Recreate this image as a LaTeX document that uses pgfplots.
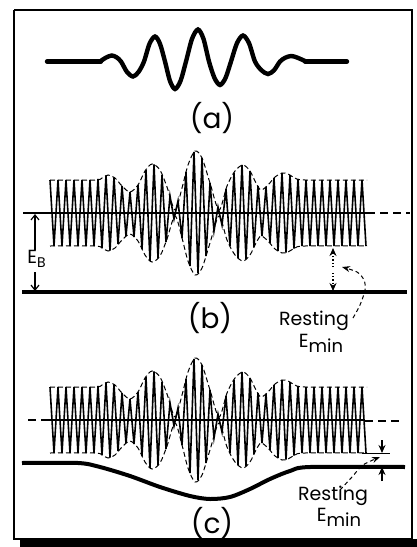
\documentclass[border=0pt]{standalone}
\usepackage{fontspec}
\setmainfont{Poppins}
\usepackage{pgfplots}
\pgfplotsset{compat=1.18}
\usepackage{pgfplotstable}
\usetikzlibrary{arrows.meta}

% pixel coordinates of the drawing (y grows downward)
% carrier vertices: x and signed half swing about the centre line
\pgfplotstableread{
x s
50 33
54 -33
58 33
62 -33
66 33
70 -33
74 33
78 -33
82 33
86 -33
90 33
94 -33
98 34
102 -35
106 37.5
110 -37.5
114 35.5
118 -31
122 27
126 -23
130 21
134 -24
138 28
142 -36
146 43
150 -48
154 48.5
158 -45
162 38
166 -29
170 17
174 -6
178 12
182 -25
186 41
190 -53
194 61
198 -60
202 55
206 -43
210 30
214 -18
218 6
222 -12
226 24
230 -33
234 40
238 -45
242 48
246 -46
250 42
254 -34
258 27
262 -23
266 26
270 -30
274 35
278 -38
282 40
286 -39.5
290 38
294 -35.5
298 34
302 -33
306 33
310 -33
314 33
318 -33
322 33
326 -33
330 33
334 -33
338 33
342 -33
346 33
350 -33
354 33
358 -33
362 33
366 -33
}\carrier

% dashed envelope: x and half height
\pgfplotstableread{
x a
50 33
95 33
102 35
108 38
115 35
122 27
130 21
138 28
145 42
152 49
160 43
167 26
175 3
182 25
188 48
195 62
202 55
210 30
219 3
227 27
235 42
243 48
250 42
256 30
261 23
268 28
275 36
282 40
288 39
295 35
305 33
367 33
}\envelope

\begin{document}
\begin{tikzpicture}
\begin{axis}[
  width=208.5pt, height=273.5pt, scale only axis,
  xmin=0, xmax=417, ymin=0, ymax=547, y dir=reverse,
  hide axis, clip=false,
]
\addplot[draw=none, fill=white] coordinates {(0,0) (417,0) (417,547) (0,547)} -- cycle;

% frame and shadow
\addplot[black, line width=1pt] coordinates {(14,10) (412,10) (412,539) (14,539) (14,10)};
\addplot[draw=none, fill=black] coordinates {(20,539) (417,539) (417,547) (20,547)} -- cycle;

% (a) the signal
\addplot[black, line width=2.2pt, line cap=round] coordinates {(47,61.5) (101,61.5)};
\addplot[black, line width=2.2pt, line cap=round] coordinates {(305,61.5) (347,61.5)};
\addplot[black, line width=2.2pt, smooth, line cap=round] coordinates {
 (100,61.5) (106,57.6) (111.7,55.5) (116.5,57.3) (121,61.5)
 (127,72) (133,76.5) (138.5,72) (144,61.5)
 (149.5,43.8) (155,36.5) (160,43.8) (165,61.5)
 (170,81) (175,89) (180.5,81) (186,61.5)
 (192,38.9) (198,29.5) (203.5,38.9) (209,61.5)
 (214.5,78) (220,85) (225.5,78) (231,61.5)
 (237,43.1) (243,35.5) (249,43.1) (255,61.5)
 (261.5,70.3) (268,74) (274,70.3) (280,61.5)
 (285.5,57.6) (291.5,56) (298,57.9) (306,61.5)};
\node[font=\fontsize{14}{14}\selectfont] at (axis cs:212,118) {(a)};

% (b)
\addplot[black, line width=0.6pt] coordinates {(23,213) (367,213)};
\addplot[black, line width=0.8pt, dash pattern=on 4pt off 2.5pt] coordinates {(367,213) (410,213)};
\addplot[black, line width=0.8pt] table[x=x, y expr=213-\thisrow{s}] {\carrier};
\addplot[black, line width=0.5pt, smooth, dash pattern=on 2.5pt off 1.5pt] table[x=x, y expr=213-\thisrow{a}] {\envelope};
\addplot[black, line width=0.5pt, smooth, dash pattern=on 2.5pt off 1.5pt] table[x=x, y expr=213+\thisrow{a}] {\envelope};
\addplot[black, line width=2pt] coordinates {(22,292) (407,292)};
\addplot[black, line width=0.6pt, -{Straight Barb[length=2.5pt,width=4pt]}] coordinates {(35,250) (35,214)};
\addplot[black, line width=0.6pt, -{Straight Barb[length=2.5pt,width=4pt]}] coordinates {(35,272) (35,291)};
\node[anchor=west, font=\fontsize{9.5}{9.5}\selectfont, inner sep=0pt] at (axis cs:27,259)
  {E\raisebox{-0.45ex}{\fontsize{7}{7}\selectfont B}};
\addplot[black, line width=0.6pt, densely dotted, -{Stealth[length=4pt,width=3.5pt]}] coordinates {(333,267) (333,248)};
\addplot[black, line width=0.6pt, densely dotted, -{Stealth[length=4pt,width=3.5pt]}] coordinates {(333,273) (333,291)};
\addplot[black, line width=0.5pt, smooth, dash pattern=on 2pt off 1.5pt, -{Stealth[length=4pt,width=3pt]}]
  coordinates {(353,318) (360,305) (365,290) (364,280) (357,272) (342,267)};
\node[font=\fontsize{14}{14}\selectfont] at (axis cs:210,318) {(b)};
\node[font=\fontsize{9.5}{9.5}\selectfont, inner sep=0pt] at (axis cs:314,321) {Resting};
\node[font=\fontsize{9.5}{9.5}\selectfont, inner sep=0pt] at (axis cs:321,343)
  {E\raisebox{-0.5ex}{\fontsize{9}{9}\selectfont min}};

% (c)
\addplot[black, line width=0.8pt, dash pattern=on 4pt off 2.5pt] coordinates {(28,420) (47,420)};
\addplot[black, line width=0.6pt] coordinates {(47,420) (365,420)};
\addplot[black, line width=0.8pt, dash pattern=on 4pt off 2.5pt] coordinates {(365,421) (403,421)};
\addplot[black, line width=0.8pt] table[x=x, y expr=420-\thisrow{s}] {\carrier};
\addplot[black, line width=0.5pt, smooth, dash pattern=on 2.5pt off 1.5pt] table[x=x, y expr=420-\thisrow{a}] {\envelope};
\addplot[black, line width=0.5pt, smooth, dash pattern=on 2.5pt off 1.5pt] table[x=x, y expr=420+\thisrow{a}] {\envelope};
\addplot[black, line width=0.5pt] coordinates {(362,453) (390,453)};
\addplot[black, line width=2pt, smooth] coordinates {
 (22,463) (78,463) (100,467) (130,476) (160,487) (190,496) (210,499)
 (230,497) (250,489) (270,479) (290,471) (310,467) (405,467)};
\addplot[black, line width=0.6pt, -{Stealth[length=4pt,width=3.5pt]}] coordinates {(382,440) (382,453)};
\addplot[black, line width=0.6pt, -{Stealth[length=4pt,width=3.5pt]}] coordinates {(382,481) (382,467)};
\addplot[black, line width=0.5pt, smooth, dash pattern=on 2pt off 1.5pt, -{Stealth[length=4pt,width=3pt]}]
  coordinates {(340,490) (352,477) (363,465) (380,457)};
\node[font=\fontsize{14}{14}\selectfont] at (axis cs:212,523) {(c)};
\node[font=\fontsize{9.5}{9.5}\selectfont, inner sep=0pt] at (axis cs:333,496) {Resting};
\node[font=\fontsize{9.5}{9.5}\selectfont, inner sep=0pt] at (axis cs:339,517)
  {E\raisebox{-0.5ex}{\fontsize{9}{9}\selectfont min}};
\end{axis}
\end{tikzpicture}
\end{document}
